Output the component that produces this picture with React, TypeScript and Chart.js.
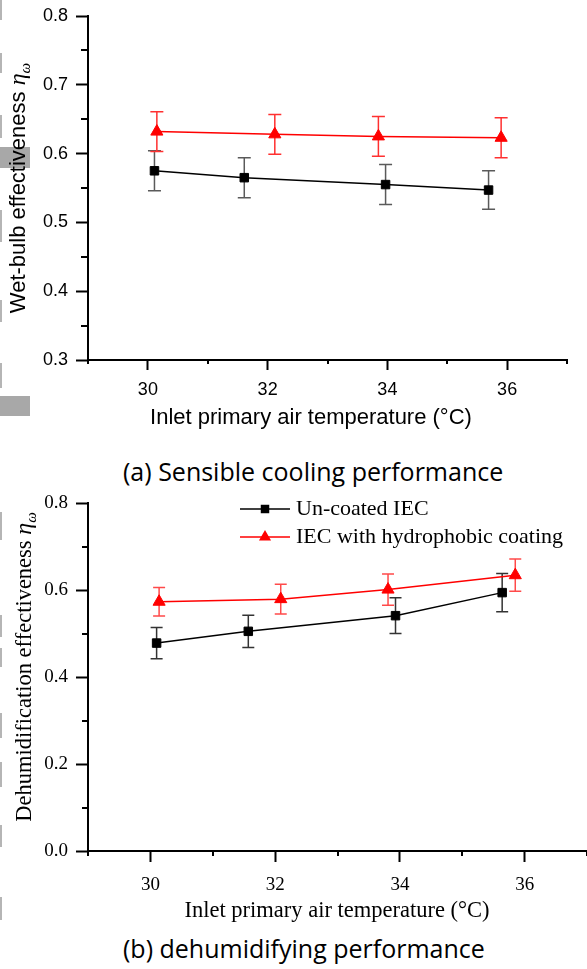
import React, { useEffect, useRef } from 'react';
import { Chart, registerables } from 'chart.js';

Chart.register(...registerables);

// ---------- data ----------
const seriesLabels = ['Un-coated IEC', 'IEC with hydrophobic coating'];

// (a) Sensible cooling performance – wet-bulb effectiveness
const aTempUncoated = [30.11, 31.61, 33.97, 35.69];
const aEffUncoated = [0.575, 0.565, 0.555, 0.547];
const aErrUncoated = [0.029, 0.029, 0.029, 0.028];
const aTempCoated = [30.15, 32.12, 33.85, 35.9];
const aEffCoated = [0.632, 0.628, 0.625, 0.623];
const aErrCoated = [0.029, 0.029, 0.029, 0.029];

// (b) dehumidifying performance – dehumidification effectiveness
const bTempUncoated = [30.1, 31.57, 33.93, 35.64];
const bEffUncoated = [0.478, 0.505, 0.541, 0.594];
const bErrUncoated = [0.036, 0.037, 0.041, 0.044];
const bTempCoated = [30.14, 32.09, 33.81, 35.85];
const bEffCoated = [0.573, 0.579, 0.601, 0.634];
const bErrCoated = [0.033, 0.034, 0.036, 0.037];

// ticks
const xMajorTicks = [30, 32, 34, 36];
const xMinorTicks = [29, 31, 33, 35, 37];
const aYMajorTicks = [0.3, 0.4, 0.5, 0.6, 0.7, 0.8];
const aYMinorTicks = [0.35, 0.45, 0.55, 0.65, 0.75];
const bYMajorTicks = [0.0, 0.2, 0.4, 0.6, 0.8];
const bYMinorTicks = [0.1, 0.3, 0.5, 0.7];

const xTitle = 'Inlet primary air temperature (°C)';
const aYTitle = 'Wet-bulb effectiveness ';
const bYTitle = 'Dehumidification effectiveness ';
const captionA = '(a) Sensible cooling performance';
const captionB = '(b) dehumidifying performance';

// decorative grey marks at the left edge of the scanned page
const greyBoxes = [
  { top: 147, height: 21, width: 30 },
  { top: 396, height: 20, width: 30 },
];
const greyEdgeLines = [
  [0, 20], [53, 73], [115, 138], [210, 242], [300, 322], [363, 388],
  [512, 540], [615, 637], [648, 667], [713, 738], [762, 787], [825, 847], [897, 920],
];

const SANS = '"Liberation Sans", Arial, sans-serif';
const SERIF = '"Liberation Serif", "Times New Roman", serif';

// ---------- plugins ----------
function errorBarPlugin(capHalf: number) {
  return {
    id: 'errorBars',
    beforeDatasetsDraw(chart: any) {
      const { ctx } = chart;
      const x = chart.scales.x;
      const y = chart.scales.y;
      chart.data.datasets.forEach((ds: any) => {
        const errs: number[] = ds.errors;
        if (!errs) return;
        ctx.save();
        ctx.strokeStyle = ds.errorColor;
        ctx.lineWidth = 1.5;
        ctx.beginPath();
        ds.data.forEach((p: any, j: number) => {
          const px = x.getPixelForValue(p.x);
          const top = y.getPixelForValue(p.y + errs[j]);
          const bot = y.getPixelForValue(p.y - errs[j]);
          ctx.moveTo(px, top);
          ctx.lineTo(px, bot);
          ctx.moveTo(px - capHalf, top);
          ctx.lineTo(px + capHalf, top);
          ctx.moveTo(px - capHalf, bot);
          ctx.lineTo(px + capHalf, bot);
        });
        ctx.stroke();
        ctx.restore();
      });
    },
  };
}

function minorTickPlugin(xs: number[], ys: number[], xLen: number, yLen: number) {
  return {
    id: 'minorTicks',
    afterDraw(chart: any) {
      const { ctx, chartArea } = chart;
      const x = chart.scales.x;
      const y = chart.scales.y;
      ctx.save();
      ctx.strokeStyle = '#000';
      ctx.lineWidth = 2;
      ctx.beginPath();
      xs.forEach((v) => {
        const px = Math.round(x.getPixelForValue(v));
        ctx.moveTo(px, chartArea.bottom);
        ctx.lineTo(px, chartArea.bottom + xLen);
      });
      ys.forEach((v) => {
        const py = Math.round(y.getPixelForValue(v));
        ctx.moveTo(chartArea.left, py);
        ctx.lineTo(chartArea.left - yLen, py);
      });
      ctx.stroke();
      ctx.restore();
    },
  };
}

type Part = { text: string; font: string; dy: number };

function titlePlugin(cfg: {
  xText: string; xFont: string; xCenter: number; xBaseline: number;
  yParts: Part[]; yBaseline: number; yCenter: number;
}) {
  return {
    id: 'axisTitles',
    afterDraw(chart: any) {
      const { ctx } = chart;
      ctx.save();
      ctx.fillStyle = '#000';
      ctx.font = cfg.xFont;
      ctx.textAlign = 'center';
      ctx.textBaseline = 'alphabetic';
      ctx.fillText(cfg.xText, cfg.xCenter, cfg.xBaseline);

      // y title: rotated, mixed fonts
      let total = 0;
      const widths = cfg.yParts.map((p) => {
        ctx.font = p.font;
        const w = ctx.measureText(p.text).width;
        total += w;
        return w;
      });
      ctx.translate(cfg.yBaseline, cfg.yCenter);
      ctx.rotate(-Math.PI / 2);
      ctx.textAlign = 'left';
      let cx = -total / 2;
      cfg.yParts.forEach((p, i) => {
        ctx.font = p.font;
        ctx.fillText(p.text, cx, p.dy);
        cx += widths[i];
      });
      ctx.restore();
    },
  };
}

function legendPlugin(ys: number[], x0: number, x1: number, textX: number, font: string) {
  return {
    id: 'innerLegend',
    afterDraw(chart: any) {
      const { ctx } = chart;
      ctx.save();
      chart.data.datasets.forEach((ds: any, i: number) => {
        const y = ys[i];
        const mx = (x0 + x1) / 2;
        ctx.strokeStyle = ds.borderColor;
        ctx.lineWidth = 1.5;
        ctx.beginPath();
        ctx.moveTo(x0, y);
        ctx.lineTo(x1, y);
        ctx.stroke();
        ctx.fillStyle = ds.pointBackgroundColor;
        ctx.beginPath();
        if (ds.pointStyle === 'rect') {
          const s = ds.pointRadius * Math.SQRT1_2;
          ctx.rect(mx - s, y - s, 2 * s, 2 * s);
        } else {
          const r = ds.pointRadius;
          ctx.moveTo(mx, y - r);
          ctx.lineTo(mx + 0.866 * r, y + 0.5 * r);
          ctx.lineTo(mx - 0.866 * r, y + 0.5 * r);
          ctx.closePath();
        }
        ctx.fill();
        ctx.fillStyle = '#000';
        ctx.font = font;
        ctx.textAlign = 'left';
        ctx.textBaseline = 'middle';
        ctx.fillText(ds.label, textX, y + 0.5);
      });
      ctx.restore();
    },
  };
}

function makeDatasets(
  tU: number[], eU: number[], errU: number[],
  tC: number[], eC: number[], errC: number[],
  errColorU: string, errColorC: string,
) {
  return [
    {
      label: seriesLabels[0],
      data: tU.map((t, i) => ({ x: t, y: eU[i] })),
      borderColor: '#000000',
      backgroundColor: '#000000',
      borderWidth: 1.5,
      pointStyle: 'rect',
      pointRadius: 6,
      pointBorderWidth: 1,
      pointBorderColor: '#000000',
      pointBackgroundColor: '#000000',
      errors: errU,
      errorColor: errColorU,
    },
    {
      label: seriesLabels[1],
      data: tC.map((t, i) => ({ x: t, y: eC[i] })),
      borderColor: '#ff0000',
      backgroundColor: '#ff0000',
      borderWidth: 1.5,
      pointStyle: 'triangle',
      pointRadius: 7,
      pointBorderWidth: 1,
      pointBorderColor: '#ff0000',
      pointBackgroundColor: '#ff0000',
      errors: errC,
      errorColor: errColorC,
    },
  ];
}

function makeScales(opts: {
  yMin: number; yMax: number; yTicks: number[]; family: string; tickSize: number;
  xHeight: number; yWidth: number; xTickLen: number; yTickLen: number; xPad: number; yPad: number;
}) {
  return {
    x: {
      type: 'linear',
      min: 29,
      max: 37,
      afterBuildTicks: (ax: any) => { ax.ticks = xMajorTicks.map((v) => ({ value: v })); },
      afterFit: (s: any) => {
        s.height = opts.xHeight;
        s.paddingLeft = 0;
        s.paddingRight = 0;
      },
      grid: { display: true, drawOnChartArea: false, drawTicks: true, tickLength: opts.xTickLen, tickWidth: 2, tickColor: '#000' },
      border: { display: true, color: '#000', width: 2 },
      ticks: {
        color: '#000', autoSkip: false, maxRotation: 0, padding: opts.xPad,
        font: { family: opts.family, size: opts.tickSize },
        callback: (v: any) => String(v),
      },
    },
    y: {
      type: 'linear',
      min: opts.yMin,
      max: opts.yMax,
      afterBuildTicks: (ax: any) => { ax.ticks = opts.yTicks.map((v) => ({ value: v })); },
      afterFit: (s: any) => {
        s.width = opts.yWidth;
        s.paddingTop = 0;
        s.paddingBottom = 0;
      },
      grid: { display: true, drawOnChartArea: false, drawTicks: true, tickLength: opts.yTickLen, tickWidth: 2, tickColor: '#000' },
      border: { display: true, color: '#000', width: 2 },
      ticks: {
        color: '#000', autoSkip: false, padding: opts.yPad,
        font: { family: opts.family, size: opts.tickSize },
        callback: (v: any) => Number(v).toFixed(1),
      },
    },
  };
}

export default function App() {
  const refA = useRef<HTMLCanvasElement | null>(null);
  const refB = useRef<HTMLCanvasElement | null>(null);

  useEffect(() => {
    const chartA = new Chart(refA.current as HTMLCanvasElement, {
      type: 'line',
      data: {
        datasets: makeDatasets(aTempUncoated, aEffUncoated, aErrUncoated, aTempCoated, aEffCoated, aErrCoated, '#5a5a5a', '#ff3030') as any,
      },
      options: {
        responsive: false,
        animation: false,
        events: [],
        layout: { autoPadding: false, padding: { left: 0, top: 16, right: 20, bottom: 0 } },
        plugins: { legend: { display: false }, tooltip: { enabled: false } },
        scales: makeScales({
          yMin: 0.3, yMax: 0.8, yTicks: aYMajorTicks, family: SANS, tickSize: 18,
          xHeight: 80, yWidth: 88, xTickLen: 10, yTickLen: 12, xPad: 9, yPad: 8,
        }) as any,
      },
      plugins: [
        errorBarPlugin(6.5),
        minorTickPlugin(xMinorTicks, aYMinorTicks, 4, 7),
        titlePlugin({
          xText: xTitle, xFont: `22px ${SANS}`, xCenter: 311, xBaseline: 424,
          yParts: [
            { text: aYTitle, font: `22px ${SANS}`, dy: 0 },
            { text: 'η', font: `italic 24px ${SERIF}`, dy: 0 },
            { text: 'ω', font: `italic 15px ${SERIF}`, dy: 5 },
          ],
          yBaseline: 25, yCenter: 188,
        }),
      ],
    });

    const chartB = new Chart(refB.current as HTMLCanvasElement, {
      type: 'line',
      data: {
        datasets: makeDatasets(bTempUncoated, bEffUncoated, bErrUncoated, bTempCoated, bEffCoated, bErrCoated, '#333333', '#ff4a4a') as any,
      },
      options: {
        responsive: false,
        animation: false,
        events: [],
        layout: { autoPadding: false, padding: { left: 0, top: 23, right: 0, bottom: 0 } },
        plugins: { legend: { display: false }, tooltip: { enabled: false } },
        scales: makeScales({
          yMin: 0, yMax: 0.8, yTicks: bYMajorTicks, family: SERIF, tickSize: 19,
          xHeight: 79, yWidth: 88, xTickLen: 11, yTickLen: 12, xPad: 12, yPad: 8,
        }) as any,
      },
      plugins: [
        errorBarPlugin(6),
        minorTickPlugin(xMinorTicks, bYMinorTicks, 5, 6),
        titlePlugin({
          xText: xTitle, xFont: `22.5px ${SERIF}`, xCenter: 337, xBaseline: 437,
          yParts: [
            { text: bYTitle, font: `22.5px ${SERIF}`, dy: 0 },
            { text: 'η', font: `italic 24px ${SERIF}`, dy: 0 },
            { text: 'ω', font: `italic 15px ${SERIF}`, dy: 5 },
          ],
          yBaseline: 31, yCenter: 187,
        }),
        legendPlugin([29, 57], 240, 290, 296, `22px ${SERIF}`),
      ],
    });

    return () => {
      chartA.destroy();
      chartB.destroy();
    };
  }, []);

  const captionStyle: React.CSSProperties = {
    position: 'absolute',
    left: 123,
    fontFamily: '"Open Sans", "Noto Sans", sans-serif',
    fontSize: 25,
    lineHeight: '25px',
    color: '#000',
    whiteSpace: 'nowrap',
  };

  return (
    <div style={{ position: 'fixed', left: 0, top: 0, width: 587, height: 969, background: '#fff', overflow: 'hidden' }}>
      {greyBoxes.map((b, i) => (
        <div key={'b' + i} style={{ position: 'absolute', left: 0, top: b.top, width: b.width, height: b.height, background: '#a8a8a8' }} />
      ))}
      {greyEdgeLines.map((l, i) => (
        <div key={'l' + i} style={{ position: 'absolute', left: 0, top: l[0], width: 2, height: l[1] - l[0], background: '#b5b5b5' }} />
      ))}
      <canvas ref={refA} width={587} height={440} style={{ position: 'absolute', left: 0, top: 0, width: 587, height: 440 }} />
      <div style={{ ...captionStyle, top: 459 }}>{captionA}</div>
      <canvas ref={refB} width={587} height={450} style={{ position: 'absolute', left: 0, top: 480, width: 587, height: 450 }} />
      <div style={{ ...captionStyle, top: 936 }}>{captionB}</div>
    </div>
  );
}
